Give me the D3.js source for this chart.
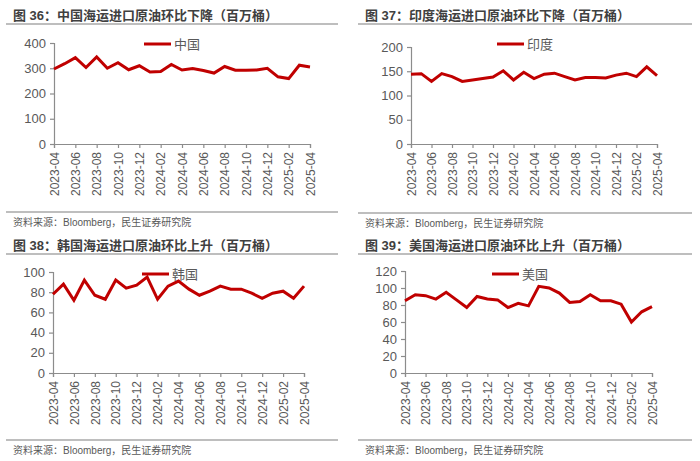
<!DOCTYPE html>
<html>
<head>
<meta charset="utf-8">
<script src="https://cdn.jsdelivr.net/npm/d3@7"></script>
<style>
  body { margin: 0; background: #fff; }
  svg { display: block; font-family: "Liberation Sans", Arial, "Noto Sans CJK SC", sans-serif; }
</style>
</head>
<body>
<svg id="svg" width="700" height="461"></svg>
<script>
// months 2023-04 .. 2025-04
const months = d3.range(25).map((i) => {
  const m = 3 + i; // 0-based month index from Jan 2023
  const y = 2023 + Math.floor(m / 12);
  return y + "-" + String((m % 12) + 1).padStart(2, "0");
});
const tickMonths = months.filter((d, i) => i % 2 === 0);

const china = [297, 318, 342, 303, 345, 300, 322, 294, 310, 285, 287, 315, 293, 299, 291, 281, 307, 292, 292, 293, 300, 266, 259, 312, 305];
const india = [144, 145, 129, 145, 139, 129, 132, 135, 138, 151, 132, 148, 135, 144, 146, 139, 132, 137, 137, 136, 142, 146, 139, 159, 141];
const korea = [78, 88, 72, 92, 77, 73, 92, 84, 87, 95, 73, 86, 91, 83, 77, 81, 86, 83, 83, 79, 74, 79, 81, 74, 86];
const usa = [85, 92, 91, 87, 95, 86, 77, 90, 87, 86, 77, 82, 79, 102, 100, 94, 83, 84, 92, 85, 85, 81, 60, 72, 78];

const chinaTicks = [0, 100, 200, 300, 400];
const indiaTicks = [0, 50, 100, 150, 200];
const koreaTicks = [0, 20, 40, 60, 80, 100];
const usaTicks = [0, 20, 40, 60, 80, 100, 120];

const source = "资料来源：Bloomberg，民生证券研究院";

const panels = [
  { title: "图 36：中国海运进口原油环比下降（百万桶）", name: "中国", values: china, ticks: chinaTicks,
    tx: 13, ty: 20, lineX: [6, 338], lineY: 24, x0: 54, x1: 310, y0: 144, y1: 43, leg: [144, 44], bottom: 212 },
  { title: "图 37：印度海运进口原油环比下降（百万桶）", name: "印度", values: india, ticks: indiaTicks,
    tx: 365, ty: 20, lineX: [358, 692], lineY: 24, x0: 411, x1: 657, y0: 144, y1: 47, leg: [497, 44], bottom: 213 },
  { title: "图 38：韩国海运进口原油环比上升（百万桶）", name: "韩国", values: korea, ticks: koreaTicks,
    tx: 13, ty: 250, lineX: [6, 338], lineY: 254, x0: 53, x1: 304, y0: 373, y1: 272, leg: [142, 274], bottom: 440 },
  { title: "图 39：美国海运进口原油环比上升（百万桶）", name: "美国", values: usa, ticks: usaTicks,
    tx: 365, ty: 250, lineX: [358, 692], lineY: 254, x0: 405, x1: 652, y0: 373, y1: 271, leg: [492, 274], bottom: 440 }
];

const svg = d3.select("#svg");
const red = "#C00000";
const axisGray = "#8c8c8c";
const textGray = "#595959";

panels.forEach((p) => {
  const g = svg.append("g");

  // title + rule
  g.append("text")
    .attr("x", p.tx).attr("y", p.ty)
    .attr("font-size", 13).attr("font-weight", "bold")
    .attr("fill", "#404040")
    .text(p.title);
  g.append("line")
    .attr("x1", p.lineX[0]).attr("x2", p.lineX[1])
    .attr("y1", p.lineY).attr("y2", p.lineY)
    .attr("stroke", "#7f7f7f").attr("stroke-width", 1.2);

  // bottom rule + source
  g.append("line")
    .attr("x1", p.lineX[0]).attr("x2", p.lineX[1])
    .attr("y1", p.bottom).attr("y2", p.bottom)
    .attr("stroke", "#7f7f7f").attr("stroke-width", 1.2);
  g.append("text")
    .attr("x", p.tx).attr("y", p.bottom + 14)
    .attr("font-size", 10).attr("fill", textGray)
    .text(source);

  const x = d3.scalePoint().domain(months).range([p.x0, p.x1]);
  const y = d3.scaleLinear().domain([0, d3.max(p.ticks)]).range([p.y0, p.y1]);

  // y axis
  const yAxis = g.append("g")
    .attr("transform", "translate(" + p.x0 + ",0)")
    .call(d3.axisLeft(y).tickValues(p.ticks).tickSize(4).tickPadding(4));
  yAxis.selectAll("text").attr("font-size", 13).attr("fill", textGray);

  // x axis
  const xAxis = g.append("g")
    .attr("transform", "translate(0," + p.y0 + ")")
    .call(d3.axisBottom(x).tickValues(tickMonths).tickSize(4).tickPadding(4));
  xAxis.selectAll("text")
    .attr("font-size", 12).attr("fill", textGray)
    .attr("transform", "rotate(-90)")
    .attr("text-anchor", "end")
    .attr("dy", "0.35em")
    .attr("x", -8).attr("y", 0);

  [yAxis, xAxis].forEach((a) => {
    a.select(".domain").attr("stroke", axisGray).attr("stroke-width", 1.2);
    a.selectAll(".tick line").attr("stroke", axisGray).attr("stroke-width", 1.2);
  });

  // data line
  const line = d3.line()
    .x((d, i) => x(months[i]))
    .y((d) => y(d));
  g.append("path")
    .datum(p.values)
    .attr("d", line)
    .attr("fill", "none")
    .attr("stroke", red)
    .attr("stroke-width", 3)
    .attr("stroke-linejoin", "miter");

  // legend
  g.append("line")
    .attr("x1", p.leg[0]).attr("x2", p.leg[0] + 27)
    .attr("y1", p.leg[1]).attr("y2", p.leg[1])
    .attr("stroke", red).attr("stroke-width", 3);
  g.append("text")
    .attr("x", p.leg[0] + 30).attr("y", p.leg[1])
    .attr("dy", "0.35em")
    .attr("font-size", 13).attr("fill", textGray)
    .text(p.name);
});
</script>
</body>
</html>
